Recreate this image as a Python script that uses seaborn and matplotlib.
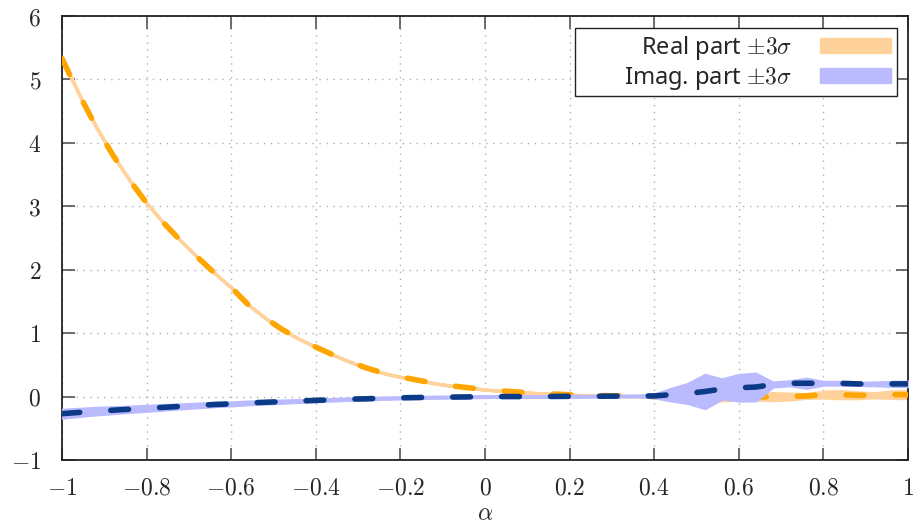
import numpy as np
import pandas as pd
import matplotlib
matplotlib.use("Agg")
import matplotlib.pyplot as plt
from matplotlib.patches import Patch, Rectangle
import seaborn as sns

# Parameter grid
alpha = np.linspace(-1.0, 1.0, 51)

# Real part: mean and 3-sigma half-width
real_mean = [
    5.33, 4.77, 4.26, 3.81, 3.41, 3.05, 2.74, 2.46, 2.20, 1.95,
    1.72, 1.45, 1.24, 1.06, 0.91, 0.78, 0.66, 0.55, 0.45, 0.37,
    0.31, 0.26, 0.21, 0.17, 0.14, 0.11, 0.09, 0.07, 0.055, 0.04,
    0.03, 0.02, 0.015, 0.01, 0.005, 0.0, 0.005, 0.0, -0.02, -0.03,
    -0.02, -0.01, 0.0, 0.0, 0.01, 0.03, 0.03, 0.02, 0.02, 0.03, 0.03,
]
real_3sigma = [
    0.0, 0.0, 0.0, 0.0, 0.0, 0.0, 0.0, 0.0, 0.0, 0.0,
    0.0, 0.0, 0.0, 0.0, 0.0, 0.0, 0.0, 0.0, 0.0, 0.0,
    0.0, 0.0, 0.0, 0.0, 0.0, 0.0, 0.0, 0.0, 0.0, 0.0,
    0.0, 0.0, 0.0, 0.0, 0.005, 0.005, 0.01, 0.015, 0.025, 0.03,
    0.025, 0.035, 0.055, 0.045, 0.03, 0.045, 0.055, 0.045, 0.03, 0.05, 0.055,
]

# Imaginary part: mean and 3-sigma half-width
imag_mean = [
    -0.27, -0.25, -0.23, -0.215, -0.20, -0.185, -0.17, -0.155, -0.14, -0.125,
    -0.115, -0.10, -0.09, -0.08, -0.07, -0.06, -0.05, -0.04, -0.035, -0.025,
    -0.02, -0.015, -0.01, -0.008, -0.005, 0.0, 0.0, 0.0, 0.0, 0.002,
    0.004, 0.005, 0.006, 0.008, 0.01, 0.01, 0.03, 0.05, 0.08, 0.12,
    0.14, 0.15, 0.19, 0.21, 0.21, 0.21, 0.21, 0.20, 0.20, 0.20, 0.20,
]
imag_3sigma = [
    0.06, 0.055, 0.05, 0.045, 0.04, 0.037, 0.034, 0.03, 0.028, 0.025,
    0.022, 0.02, 0.018, 0.016, 0.014, 0.012, 0.011, 0.01, 0.01, 0.009,
    0.008, 0.008, 0.007, 0.007, 0.006, 0.006, 0.005, 0.005, 0.005, 0.005,
    0.005, 0.005, 0.005, 0.005, 0.005, 0.02, 0.09, 0.15, 0.26, 0.15,
    0.20, 0.21, 0.03, 0.03, 0.07, 0.02, 0.02, 0.015, 0.02, 0.03, 0.035,
]

x_ticks = [-1, -0.8, -0.6, -0.4, -0.2, 0, 0.2, 0.4, 0.6, 0.8, 1]
y_ticks = [-1, 0, 1, 2, 3, 4, 5, 6]
legend_labels = [r"Real part $\pm3\sigma$", r"Imag. part $\pm3\sigma$"]

df = pd.DataFrame({
    "alpha": alpha,
    "real": real_mean,
    "real_s": real_3sigma,
    "imag": imag_mean,
    "imag_s": imag_3sigma,
})

sns.set_style("white")
plt.rcParams["font.family"] = ["Noto Sans", "DejaVu Sans"]
plt.rcParams["mathtext.fontset"] = "cm"

REAL_BAND = "#ffd29b"
REAL_LINE = "#ffa500"
IMAG_BAND = "#babaff"
IMAG_LINE = "#0b3a86"

fig = plt.figure(figsize=(9.18, 5.28), dpi=100)
ax = fig.add_axes([62 / 918, 1 - 460 / 528, 846 / 918, 444 / 528])

dash = (0, (3.2, 5.6))

ax.fill_between(df["alpha"], df["real"] - df["real_s"], df["real"] + df["real_s"],
                facecolor=REAL_BAND, edgecolor=REAL_BAND, linewidth=2.4, zorder=2)
sns.lineplot(data=df, x="alpha", y="real", ax=ax, color=REAL_LINE, linewidth=4.0,
             linestyle=dash, dash_capstyle="round", sort=False, zorder=3)
ax.fill_between(df["alpha"], df["imag"] - df["imag_s"], df["imag"] + df["imag_s"],
                facecolor=IMAG_BAND, edgecolor=IMAG_BAND, linewidth=2.4, zorder=4)
sns.lineplot(data=df, x="alpha", y="imag", ax=ax, color=IMAG_LINE, linewidth=4.0,
             linestyle=dash, dash_capstyle="round", sort=False, zorder=5)

ax.set_xlim(-1, 1)
ax.set_ylim(-1, 6)
ax.set_xticks(x_ticks)
ax.set_yticks(y_ticks)

def fmt(v):
    return "$" + f"{v:g}" + "$"

ax.set_xticklabels([fmt(v) for v in x_ticks], fontsize=17)
ax.set_yticklabels([fmt(v) for v in y_ticks], fontsize=17)
ax.set_xlabel(r"$\alpha$", fontsize=17, labelpad=1)
ax.set_ylabel("")

ax.grid(True, color="#b0b0b0", linestyle=(0, (1, 4)), linewidth=1.0)
ax.tick_params(direction="in", length=9, width=1.2, color="#555555",
               top=True, right=True, bottom=True, left=True)
ax.tick_params(axis="x", pad=12)
ax.tick_params(axis="y", pad=15)
for sp in ax.spines.values():
    sp.set_color("#222222")
    sp.set_linewidth(1.3)

# Legend box
box = Rectangle((0.606, 0.820), 0.381, 0.153, transform=ax.transAxes,
                facecolor="white", edgecolor="#222222", linewidth=1.0, zorder=9)
ax.add_patch(box)

handles = [Patch(facecolor=REAL_BAND, edgecolor=REAL_BAND),
           Patch(facecolor=IMAG_BAND, edgecolor=IMAG_BAND)]
leg = ax.legend(handles, legend_labels, loc="upper right",
                bbox_to_anchor=(0.987, 0.973), fontsize=17,
                markerfirst=False, frameon=False, handlelength=3.0,
                handleheight=0.6, borderpad=0.25, labelspacing=0.12,
                handletextpad=1.2, borderaxespad=0.0)
leg.set_zorder(10)

fig.savefig("out.png", dpi=100)
